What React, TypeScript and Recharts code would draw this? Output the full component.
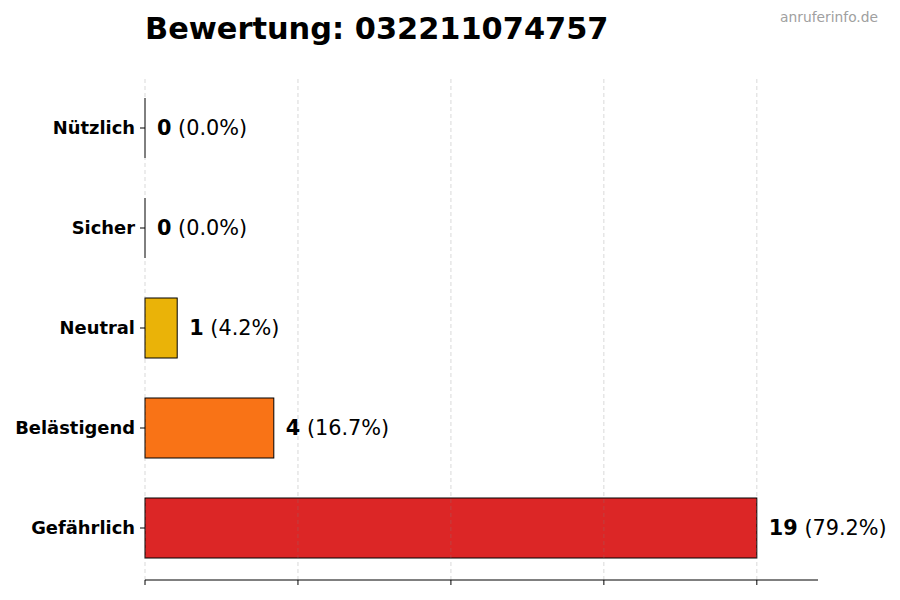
import { BarChart, Bar, XAxis, YAxis, ReferenceLine, LabelList } from 'recharts';

const CATEGORIES = ['Nützlich', 'Sicher', 'Neutral', 'Belästigend', 'Gefährlich'];
const COUNTS = [0, 0, 1, 4, 19];
const COLORS = ['#22c55e', '#3b82f6', '#eab308', '#f97316', '#dc2626'];
const X_TICKS = [0, 4.75, 9.5, 14.25, 19];
const X_MAX = 20.9;
const PHONE = '032211074757';

const FONT = '"DejaVu Sans", sans-serif';
const total = COUNTS.reduce((a, b) => a + b, 0);

const data = CATEGORIES.map((name, i) => ({
  name,
  count: COUNTS[i],
  pct: total ? (COUNTS[i] / total) * 100 : 0,
  color: COLORS[i],
}));

function BarShape(props: any) {
  const { x, y, width, height, payload } = props;
  if (!width || width <= 0) {
    return <line x1={x} x2={x} y1={y} y2={y + height} stroke="#000" strokeWidth={1} />;
  }
  return <rect x={x} y={y} width={width} height={height} fill={payload.color} stroke="#000" strokeWidth={1} />;
}

function ValueLabel(props: any) {
  const { x, y, width, height, index } = props;
  const d = data[index];
  return (
    <text x={x + width + 12} y={y + height / 2 + 7} fontFamily={FONT} fontSize={20.8} fill="#000">
      <tspan fontWeight="bold">{d.count}</tspan>
      <tspan> ({d.pct.toFixed(1)}%)</tspan>
    </text>
  );
}

export default function App() {
  return (
    <div style={{ position: 'absolute', left: 0, top: 0, width: 900, height: 600, background: '#fff', fontFamily: FONT }}>
      <div style={{ position: 'absolute', left: 145, top: 11, fontSize: 30.4, fontWeight: 'bold', color: '#000', lineHeight: '36px', whiteSpace: 'nowrap' }}>
        Bewertung: {PHONE}
      </div>
      <div style={{ position: 'absolute', right: 22, top: 8, fontSize: 13.8, color: '#a0a0a0', lineHeight: '18px' }}>
        anruferinfo.de
      </div>
      <BarChart
        width={900}
        height={600}
        data={data}
        layout="vertical"
        margin={{ top: 76, right: 82, bottom: 10, left: 0 }}
        barSize={60}
      >
        <XAxis
          type="number"
          domain={[0, X_MAX]}
          ticks={X_TICKS}
          height={10}
          axisLine={{ stroke: '#000' }}
          tickLine={{ stroke: '#000' }}
          tickSize={5}
          tickFormatter={() => ''}
        />
        <YAxis
          type="category"
          dataKey="name"
          width={145}
          axisLine={false}
          tickLine={{ stroke: '#000' }}
          tickSize={5}
          tickMargin={5}
          padding={{ top: 2, bottom: 2 }}
          tick={{ fill: '#000', fontSize: 17.9, fontWeight: 'bold', fontFamily: FONT }}
        />
        <Bar dataKey="count" shape={<BarShape />} isAnimationActive={false}>
          <LabelList dataKey="count" content={<ValueLabel />} />
        </Bar>
        {X_TICKS.map((t) => (
          <ReferenceLine key={t} x={t} stroke="#808080" strokeOpacity={0.3} strokeDasharray="4 3" />
        ))}
      </BarChart>
    </div>
  );
}
